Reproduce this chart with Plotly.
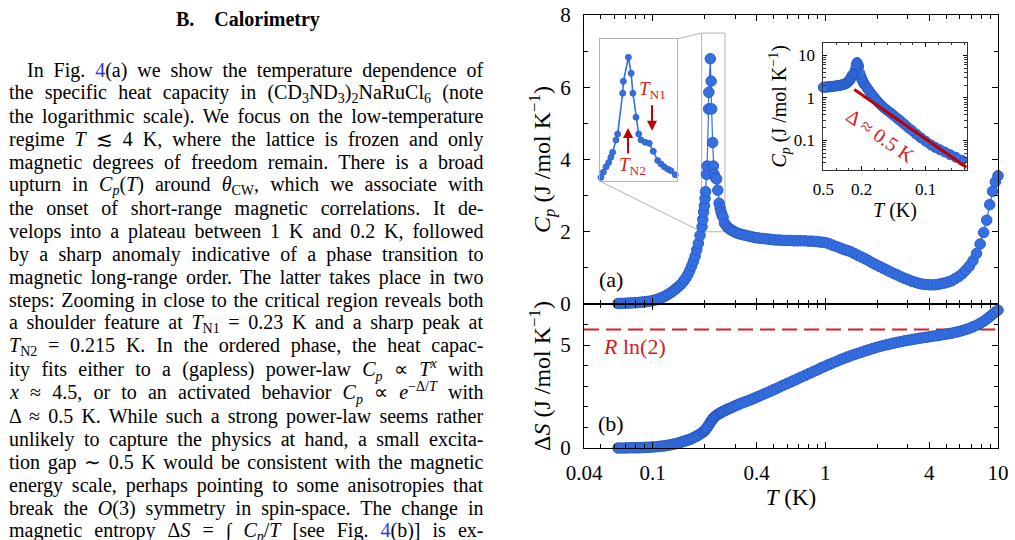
import math
import plotly.graph_objects as go

# ---------------- data ----------------
T = [0.063, 0.066, 0.069, 0.072, 0.075, 0.078, 0.081, 0.084, 0.087, 0.090,
     0.093, 0.096, 0.100, 0.104, 0.108, 0.112, 0.116, 0.120, 0.124, 0.128,
     0.132, 0.136, 0.140, 0.144, 0.148, 0.152, 0.156, 0.160, 0.164, 0.168,
     0.172, 0.176, 0.180, 0.184, 0.188,
     0.1931, 0.1950, 0.1971, 0.1992, 0.2010, 0.2024, 0.2051, 0.2065, 0.2107, 0.2113,
     0.2156, 0.2180, 0.2195, 0.2223, 0.2247, 0.2268, 0.2307, 0.2344, 0.2382, 0.2425,
     0.2457, 0.2489, 0.2524, 0.2557, 0.2602,
     0.266, 0.272, 0.278, 0.285, 0.292, 0.300, 0.310, 0.320, 0.332, 0.345,
     0.360, 0.375, 0.390, 0.405, 0.42, 0.44, 0.46, 0.48, 0.50, 0.52,
     0.545, 0.57, 0.60, 0.63, 0.66, 0.69, 0.72, 0.76, 0.80, 0.84,
     0.88, 0.92, 0.96, 1.00, 1.05, 1.10, 1.16, 1.22, 1.28, 1.34,
     1.40, 1.47, 1.54, 1.62, 1.70, 1.78, 1.87, 1.96, 2.06, 2.16,
     2.27, 2.38, 2.50, 2.62, 2.75, 2.88, 3.02, 3.17, 3.33, 3.49,
     3.66, 3.84, 4.03, 4.23, 4.44, 4.66, 4.89, 5.13, 5.38, 5.64,
     5.92, 6.21, 6.51, 6.83, 7.16, 7.51, 7.88, 8.26, 8.60, 8.95,
     9.30, 9.65, 10.0]

Cp = [0.015, 0.018, 0.021, 0.025, 0.030, 0.034, 0.040, 0.046, 0.053, 0.060,
      0.068, 0.078, 0.095, 0.115, 0.14, 0.17, 0.20, 0.24, 0.28, 0.32,
      0.37, 0.42, 0.47, 0.52, 0.58, 0.65, 0.73, 0.82, 0.93, 1.05,
      1.18, 1.32, 1.50, 1.68, 1.90,
      2.14, 2.34, 2.55, 2.72, 2.92, 3.11, 3.59, 3.82, 5.40, 5.86,
      6.79, 6.17, 5.40, 4.47, 3.82, 3.59, 3.50, 3.46, 3.15, 2.79,
      2.66, 2.55, 2.46, 2.40, 2.24,
      2.18, 2.12, 2.08, 2.05, 2.02, 1.99, 1.96, 1.94, 1.92, 1.90,
      1.88, 1.86, 1.84, 1.83, 1.82, 1.81, 1.80, 1.79, 1.78, 1.77,
      1.77, 1.76, 1.76, 1.76, 1.75, 1.75, 1.75, 1.75, 1.74, 1.74,
      1.73, 1.72, 1.71, 1.70, 1.67, 1.63, 1.59, 1.55, 1.51, 1.48,
      1.45, 1.40, 1.35, 1.30, 1.25, 1.20, 1.14, 1.09, 1.04, 0.99,
      0.94, 0.89, 0.84, 0.80, 0.75, 0.71, 0.67, 0.63, 0.60, 0.57,
      0.55, 0.54, 0.53, 0.53, 0.54, 0.56, 0.58, 0.61, 0.64, 0.70,
      0.76, 0.84, 0.94, 1.05, 1.20, 1.40, 1.66, 1.98, 2.32, 2.75,
      3.12, 3.38, 3.55]

dS = [0.00, 0.00, 0.00, 0.01, 0.01, 0.01, 0.01, 0.02, 0.02, 0.03,
      0.03, 0.04, 0.05, 0.06, 0.07, 0.09, 0.10, 0.12, 0.14, 0.16,
      0.19, 0.21, 0.24, 0.27, 0.30, 0.33, 0.36, 0.39, 0.42, 0.46,
      0.50, 0.54, 0.58, 0.63, 0.68,
      0.74, 0.77, 0.80, 0.84, 0.87, 0.90, 0.96, 1.00, 1.10, 1.12,
      1.24, 1.30, 1.34, 1.40, 1.45, 1.49, 1.54, 1.59, 1.63, 1.67,
      1.70, 1.73, 1.75, 1.78, 1.81,
      1.85, 1.89, 1.92, 1.96, 2.00, 2.05, 2.10, 2.15, 2.20, 2.25,
      2.31, 2.37, 2.43, 2.49, 2.55, 2.62, 2.69, 2.76, 2.83, 2.89,
      2.97, 3.05, 3.13, 3.21, 3.29, 3.36, 3.44, 3.52, 3.61, 3.69,
      3.77, 3.84, 3.92, 3.98, 4.06, 4.13, 4.21, 4.29, 4.36, 4.42,
      4.48, 4.54, 4.60, 4.66, 4.72, 4.77, 4.83, 4.88, 4.93, 4.98,
      5.02, 5.06, 5.10, 5.14, 5.17, 5.21, 5.24, 5.27, 5.30, 5.33,
      5.36, 5.38, 5.41, 5.44, 5.46, 5.49, 5.52, 5.55, 5.58, 5.62,
      5.66, 5.71, 5.76, 5.82, 5.89, 5.97, 6.06, 6.16, 6.27, 6.38,
      6.50, 6.61, 6.70]

fit_T = [0.226, 0.0758]      # activated fit, Delta ~ 0.5 K (end points)
fit_Cp = [1.57, 0.023]
R_LN2 = 5.763

x_tickvals = [0.04, 0.1, 0.4, 1, 4, 10]
x_ticktext = ["0.04", "0.1", "0.4", "1", "4", "10"]
x_minor = [0.05, 0.06, 0.07, 0.08, 0.09, 0.2, 0.3, 0.5, 0.6, 0.7, 0.8, 0.9,
           2, 3, 5, 6, 7, 8, 9]
ya_tickvals = [0, 2, 4, 6, 8]
ya_minor = [1, 3, 5, 7]
yb_tickvals = [0, 5]
yb_minor = [1, 2, 3, 4, 6, 7]
in2_xvals = [2, 5, 10]
in2_xtext = ["0.5", "0.2", "0.1"]
in2_xminor = [3, 4, 6, 7, 8, 9, 11, 12, 13]
in2_xrange = [2, 13.2]
in2_yvals = [0.1, 1, 10]
in2_ytext = ["0.1", "1", "10"]
in2_yminor = [0.03, 0.04, 0.05, 0.06, 0.07, 0.08, 0.09, 0.2, 0.3, 0.4, 0.5,
              0.6, 0.7, 0.8, 0.9, 2, 3, 4, 5, 6, 7, 8, 9]
zoom_T = [0.192, 0.262]
zoom_Cp = [2.0, 7.5]

HEADING = "<b>B.\u00a0\u00a0\u00a0\u00a0Calorimetry</b>"
TEXT_LINES = [
    "In Fig. <span style='color:#3030f0'>4</span>(a) we show the temperature dependence of",
    "the specific heat capacity in (CD<sub>3</sub>ND<sub>3</sub>)<sub>2</sub>NaRuCl<sub>6</sub> (note",
    "the logarithmic scale). We focus on the low-temperature",
    "regime <i>T</i> ≲ 4 K, where the lattice is frozen and only",
    "magnetic degrees of freedom remain. There is a broad",
    "upturn in <i>C<sub>p</sub></i>(<i>T</i>) around <i>θ</i><sub>CW</sub>, which we associate with",
    "the onset of short-range magnetic correlations. It de-",
    "velops into a plateau between 1 K and 0.2 K, followed",
    "by a sharp anomaly indicative of a phase transition to",
    "magnetic long-range order. The latter takes place in two",
    "steps: Zooming in close to the critical region reveals both",
    "a shoulder feature at <i>T</i><sub>N1</sub> = 0.23 K and a sharp peak at",
    "<i>T</i><sub>N2</sub> = 0.215 K. In the ordered phase, the heat capac-",
    "ity fits either to a (gapless) power-law <i>C<sub>p</sub></i> ∝ <i>T<sup>x</sup></i> with",
    "<i>x</i> ≈ 4.5, or to an activated behavior <i>C<sub>p</sub></i> ∝ <i>e</i><sup>−Δ/<i>T</i></sup> with",
    "Δ ≈ 0.5 K. While such a strong power-law seems rather",
    "unlikely to capture the physics at hand, a small excita-",
    "tion gap ∼ 0.5 K would be consistent with the magnetic",
    "energy scale, perhaps pointing to some anisotropies that",
    "break the <i>O</i>(3) symmetry in spin-space. The change in",
    "magnetic entropy Δ<i>S</i> = ∫ <i>C<sub>p</sub></i>/<i>T</i> [see Fig. <span style='color:#3030f0'>4</span>(b)] is ex-",
]

# ---------------- layout helpers ----------------
W, H = 1015, 540
FONT = "Liberation Serif"
BLUE = "#3470e4"
EDGE = "#2a5cc6"
RED = "#d42020"
DARKRED = "#c00000"


def px(x):
    return x / W


def py(y):
    return 1 - y / H


XD = [px(584), px(998)]
YA = [py(304), py(15)]
YB = [py(448), py(304)]
I1X = [px(599.5), px(677)]
I1Y = [py(181), py(39)]
I2X = [px(823.3), px(966.7)]
I2Y = [py(170), py(42.7)]

XR = [math.log10(0.04), 1.0]

# subsets shown in the two insets (points inside each inset's axis range)
in1 = [(t, c) for t, c in zip(T, Cp) if zoom_T[0] <= t <= zoom_T[1]]
in2 = [(1 / t, c) for t, c in zip(T, Cp) if in2_xrange[0] <= 1 / t <= in2_xrange[1]]

fig = go.Figure()

# main panel (a)
fig.add_trace(go.Scatter(x=T, y=Cp, xaxis="x", yaxis="y", mode="lines+markers",
                         line=dict(color=BLUE, width=1.2),
                         marker=dict(size=10.5, color=BLUE, line=dict(color=EDGE, width=1)),
                         cliponaxis=False, showlegend=False))
# main panel (b)
fig.add_trace(go.Scatter(x=T, y=dS, xaxis="x2", yaxis="y2", mode="markers",
                         marker=dict(size=10.5, color=BLUE, line=dict(color=EDGE, width=1)),
                         cliponaxis=False, showlegend=False))
# inset 1: zoom on the transition
fig.add_trace(go.Scatter(x=[p[0] for p in in1], y=[p[1] for p in in1],
                         xaxis="x3", yaxis="y3", mode="lines+markers",
                         line=dict(color=BLUE, width=1.6),
                         marker=dict(size=6, color=BLUE, line=dict(color=EDGE, width=0.8)),
                         cliponaxis=False, showlegend=False))
# inset 2: Arrhenius plot
fig.add_trace(go.Scatter(x=[p[0] for p in in2], y=[p[1] for p in in2],
                         xaxis="x4", yaxis="y4", mode="markers",
                         marker=dict(size=10, color=BLUE, line=dict(color=EDGE, width=1)),
                         cliponaxis=False, showlegend=False))
fig.add_trace(go.Scatter(x=[1 / t for t in fit_T], y=fit_Cp, xaxis="x4", yaxis="y4",
                         mode="lines", line=dict(color=DARKRED, width=3), showlegend=False))

axcommon = dict(showline=True, linecolor="black", linewidth=1.2, showgrid=False,
                zeroline=False, ticks="inside", ticklen=6, tickwidth=1.1,
                tickcolor="black", mirror="allticks",
                tickfont=dict(family=FONT, size=21, color="black"))

layout = dict(
    width=W, height=H, margin=dict(l=0, r=0, t=0, b=0, autoexpand=False),
    paper_bgcolor="white", plot_bgcolor="rgba(0,0,0,0)",
    font=dict(family=FONT, color="black"),
    showlegend=False,
    xaxis=dict(axcommon, domain=XD, anchor="y", type="log", range=XR,
               tickmode="array", tickvals=x_tickvals, showticklabels=False,
               minor=dict(tickmode="array", tickvals=x_minor, ticks="inside",
                          ticklen=3.5, tickcolor="black")),
    xaxis2=dict(axcommon, domain=XD, anchor="y2", type="log", range=XR, matches="x",
                tickmode="array", tickvals=x_tickvals, ticktext=x_ticktext,
                ticklabelstandoff=6,
                minor=dict(tickmode="array", tickvals=x_minor, ticks="inside",
                           ticklen=3.5, tickcolor="black"),
                title=dict(text="<i>T</i> (K)", font=dict(family=FONT, size=23),
                           standoff=4)),
    yaxis=dict(axcommon, domain=YA, anchor="x", range=[0, 8],
               tickmode="array", tickvals=ya_tickvals, ticklabelstandoff=8,
               minor=dict(tickmode="array", tickvals=ya_minor, ticks="inside",
                          ticklen=3.5, tickcolor="black"),
               title=dict(text="<i>C<sub>p</sub></i> (J /mol K<sup>−1</sup>)",
                          font=dict(family=FONT, size=24), standoff=2)),
    yaxis2=dict(axcommon, domain=YB, anchor="x2", range=[0, 7],
                tickmode="array", tickvals=yb_tickvals, ticklabelstandoff=8,
                minor=dict(tickmode="array", tickvals=yb_minor, ticks="inside",
                           ticklen=3.5, tickcolor="black"),
                title=dict(text="Δ<i>S</i> (J /mol K<sup>−1</sup>)",
                           font=dict(family=FONT, size=24), standoff=2)),
    xaxis3=dict(domain=I1X, anchor="y3", type="log",
                range=[math.log10(zoom_T[0]), math.log10(zoom_T[1])],
                showline=True, linecolor="#b4b4b4", linewidth=1, mirror=True,
                showticklabels=False, ticks="", showgrid=False, zeroline=False),
    yaxis3=dict(domain=I1Y, anchor="x3", range=zoom_Cp,
                showline=True, linecolor="#b4b4b4", linewidth=1, mirror=True,
                showticklabels=False, ticks="", showgrid=False, zeroline=False),
    xaxis4=dict(axcommon, domain=I2X, anchor="y4", range=in2_xrange,
                linecolor="#333", linewidth=1, ticklen=4,
                tickmode="array", tickvals=in2_xvals, ticktext=in2_xtext,
                tickfont=dict(family=FONT, size=17, color="black"),
                ticklabelstandoff=4,
                minor=dict(tickmode="array", tickvals=in2_xminor, ticks="inside",
                           ticklen=2.5, tickcolor="#333"),
                title=dict(text="<i>T</i> (K)", font=dict(family=FONT, size=20),
                           standoff=1)),
    yaxis4=dict(axcommon, domain=I2Y, anchor="x4", type="log",
                range=[math.log10(0.02), math.log10(20)],
                linecolor="#333", linewidth=1, ticklen=4,
                tickmode="array", tickvals=in2_yvals, ticktext=in2_ytext,
                tickfont=dict(family=FONT, size=17, color="black"),
                ticklabelstandoff=4,
                minor=dict(tickmode="array", tickvals=in2_yminor, ticks="inside",
                           ticklen=2.5, tickcolor="#333"),
                title=dict(text="<i>C<sub>p</sub></i> (J /mol K<sup>−1</sup>)",
                           font=dict(family=FONT, size=20), standoff=1)),
)
fig.update_layout(**layout)


# zoom box and connector lines
def main_paper(t, c):
    fx = (math.log10(t) - XR[0]) / (XR[1] - XR[0])
    fy = c / 8.0
    return XD[0] + fx * (XD[1] - XD[0]), YA[0] + fy * (YA[1] - YA[0])


bx0, by0 = main_paper(zoom_T[0], zoom_Cp[0])
bx1, by1 = main_paper(zoom_T[1], zoom_Cp[1])
GRAY = "#b4b4b4"
fig.add_shape(type="rect", xref="paper", yref="paper", x0=bx0, x1=bx1, y0=by0, y1=by1,
              line=dict(color=GRAY, width=1), layer="below")
fig.add_shape(type="line", xref="paper", yref="paper", x0=I1X[1], y0=I1Y[1], x1=bx0, y1=by1,
              line=dict(color=GRAY, width=1), layer="below")
fig.add_shape(type="line", xref="paper", yref="paper", x0=I1X[0], y0=I1Y[0], x1=bx0, y1=by0,
              line=dict(color=GRAY, width=1), layer="below")
# R ln 2 line
fig.add_shape(type="line", xref="x2 domain", yref="y2", x0=0, x1=1, y0=R_LN2, y1=R_LN2,
              line=dict(color=RED, width=2, dash="15px,7px"), layer="below")

ann = []


def pann(text, x, y, size, color="black", **kw):
    d = dict(text=text, x=px(x), y=py(y), xref="paper", yref="paper",
             xanchor="center", yanchor="middle", showarrow=False,
             font=dict(family=FONT, size=size, color=color))
    d.update(kw)
    return d


# panel labels
ann.append(pann("(a)", 611, 279, 22))
ann.append(pann("(b)", 611, 423, 22))
ann.append(pann("<i>R</i> ln(2)", 634, 346, 22, RED))
# inset 1 labels and arrows
ann.append(dict(text="<i>T</i><sub>N1</sub>", x=math.log10(0.2379), y=5.52, xref="x3", yref="y3",
                xanchor="center", yanchor="middle",
                showarrow=False, font=dict(family=FONT, size=19, color=RED)))
ann.append(dict(text="<i>T</i><sub>N2</sub>", x=math.log10(0.2196), y=2.58, xref="x3", yref="y3",
                xanchor="center", yanchor="middle",
                showarrow=False, font=dict(family=FONT, size=19, color=RED)))
ann.append(dict(text="", x=math.log10(0.237), y=3.95, xref="x3", yref="y3",
                showarrow=True, ax=0, ay=-27, arrowhead=2, arrowsize=1, arrowwidth=2,
                arrowcolor=DARKRED))
ann.append(dict(text="", x=math.log10(0.2153), y=4.05, xref="x3", yref="y3",
                showarrow=True, ax=0, ay=27, arrowhead=2, arrowsize=1, arrowwidth=2,
                arrowcolor=DARKRED))
# inset 2 label
ann.append(dict(text="Δ ≈ 0.5 K", x=6.5, y=-0.89, xref="x4", yref="y4", textangle=35,
                xanchor="center", yanchor="middle",
                showarrow=False, font=dict(family=FONT, size=20, color=RED)))

# page text
ann.append(pann(HEADING, 248, 20, 20))
for i, line in enumerate(TEXT_LINES):
    x0 = 25 if i == 0 else 7
    ann.append(pann(line, x0, 70 + 23.08 * i, 20, xanchor="left", align="left"))

fig.update_layout(annotations=ann)

# justify the paragraph lines (adjust inter-word spacing to a common right edge)
JUSTIFY_JS = """
var gd = document.getElementById('{plot_id}');
function justifyLines() {
  var els = gd.querySelectorAll('g.annotation text');
  els.forEach(function (el) {
    var r = el.getBoundingClientRect();
    if (r.left > 40 || r.width < 300) return;
    var n = (el.textContent.match(/ /g) || []).length;
    if (!n) return;
    var extra = (491.5 - r.right) / n;
    el.style.wordSpacing = extra + 'px';
    var r2 = el.getBoundingClientRect();
    var dx = r.left - r2.left;
    if (Math.abs(dx) > 0.1) {
      var t = el.getAttribute('transform') || '';
      el.setAttribute('transform', t + ' translate(' + dx + ',0)');
    }
  });
}
justifyLines();
"""
fig.write_html("out.html", post_script=JUSTIFY_JS)
